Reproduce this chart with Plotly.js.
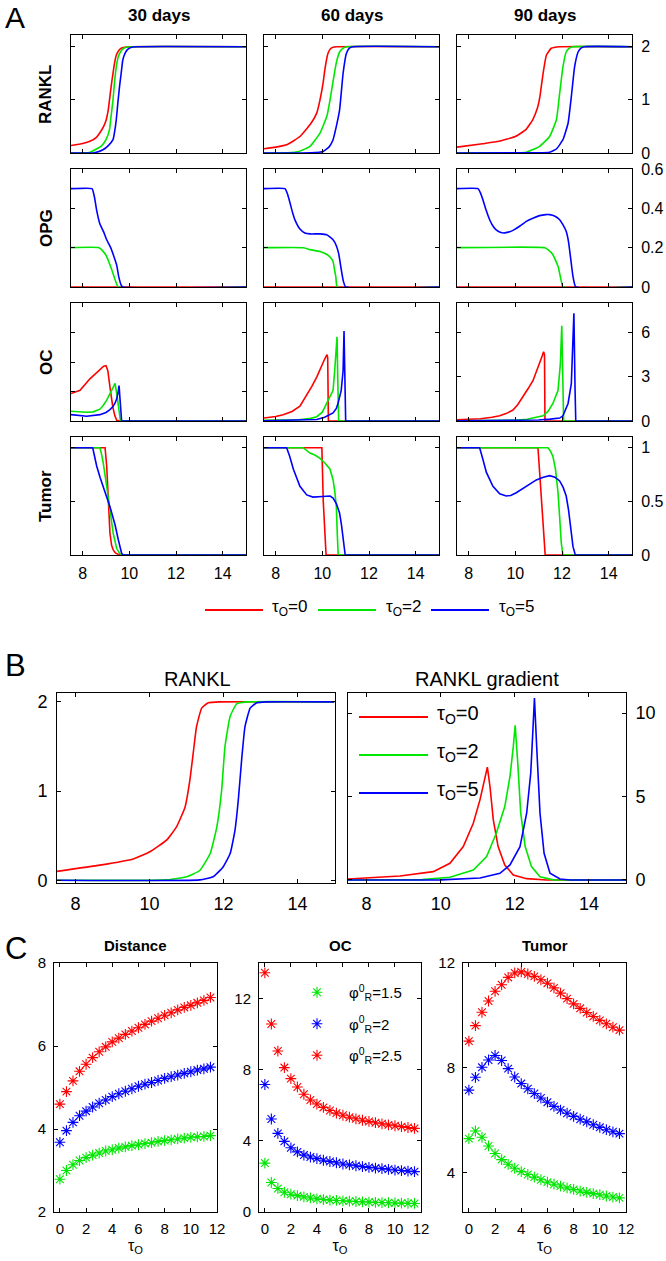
<!DOCTYPE html>
<html><head><meta charset="utf-8">
<script src="https://cdn.plot.ly/plotly-3.0.1.min.js"></script>
<style>html,body{margin:0;padding:0;background:#fff;} #chart{width:666px;height:1261px;}</style>
</head><body><div id="chart"></div>
<script>
// ---------------- Panel A data (x = time, three tau_O values) ----------------
// RANKL
const rankl30_t0_x = [7.5, 8.0, 8.31, 8.6, 8.73, 8.9, 9.01, 9.1, 9.15, 9.22, 9.3, 9.37, 9.44, 9.55, 9.65, 9.8, 10.0, 15];
const rankl30_t0_y = [0.14, 0.18, 0.22, 0.3, 0.375, 0.5, 0.625, 0.82, 1.0, 1.25, 1.5, 1.7, 1.84, 1.93, 1.97, 1.99, 2.0, 2.0];
const rankl30_t2_x = [7.5, 8.3, 8.59, 8.8, 9.0, 9.15, 9.22, 9.3, 9.37, 9.44, 9.52, 9.58, 9.7, 9.86, 10.1, 15];
const rankl30_t2_y = [0, 0.01, 0.075, 0.13, 0.25, 0.44, 0.7, 1.0, 1.35, 1.62, 1.8, 1.87, 1.95, 1.99, 2.0, 2.0];
const rankl30_t5_x = [7.5, 8.5, 8.87, 9.1, 9.3, 9.37, 9.44, 9.51, 9.58, 9.65, 9.72, 9.82, 9.93, 10.1, 10.3, 15];
const rankl30_t5_y = [0, 0.005, 0.06, 0.14, 0.25, 0.4, 0.625, 0.95, 1.25, 1.5, 1.75, 1.88, 1.95, 1.99, 2.0, 2.0];
const rankl60_t0_x = [7.5, 8.0, 8.5, 9.04, 9.5, 9.76, 9.9, 10.03, 10.12, 10.24, 10.35, 10.46, 10.6, 15];
const rankl60_t0_y = [0.08, 0.11, 0.16, 0.31, 0.55, 0.75, 1.0, 1.31, 1.6, 1.87, 1.96, 1.99, 2.0, 2.0];
const rankl60_t2_x = [7.5, 8.5, 9.0, 9.47, 9.9, 10.2, 10.33, 10.46, 10.6, 10.74, 10.88, 11.03, 15];
const rankl60_t2_y = [0, 0.005, 0.03, 0.125, 0.375, 0.7, 1.0, 1.35, 1.7, 1.9, 1.97, 2.0, 2.0];
const rankl60_t5_x = [7.5, 9.5, 10.04, 10.3, 10.46, 10.6, 10.74, 10.89, 11.03, 11.15, 11.31, 15];
const rankl60_t5_y = [0, 0.005, 0.03, 0.12, 0.25, 0.5, 0.81, 1.5, 1.87, 1.97, 2.0, 2.0];
const rankl90_t0_x = [7.5, 8.6, 9.3, 10.0, 10.45, 10.75, 10.95, 11.05, 11.19, 11.33, 11.54, 11.9, 15];
const rankl90_t0_y = [0.11, 0.175, 0.22, 0.31, 0.44, 0.63, 0.85, 1.05, 1.5, 1.84, 1.97, 2.0, 2.0];
const rankl90_t2_x = [7.5, 10.0, 10.47, 11.04, 11.47, 11.76, 11.9, 12.04, 12.18, 12.3, 12.47, 15];
const rankl90_t2_y = [0, 0.005, 0.015, 0.125, 0.31, 0.625, 1.125, 1.62, 1.9, 1.97, 2.0, 2.0];
const rankl90_t5_x = [7.5, 11.0, 11.47, 11.76, 12.04, 12.26, 12.4, 12.54, 12.69, 12.8, 12.97, 15];
const rankl90_t5_y = [0, 0.003, 0.015, 0.075, 0.25, 0.56, 1.06, 1.62, 1.9, 1.97, 2.0, 2.0];
// OPG
const opg30_t0_x = [7.5, 15];
const opg30_t0_y = [0, 0];
const opg30_t2_x = [7.5, 8.7, 8.85, 9.03, 9.24, 9.39, 9.53, 15];
const opg30_t2_y = [0.2, 0.2, 0.185, 0.155, 0.09, 0.037, 0, 0];
const opg30_t5_x = [7.5, 8.4, 8.5, 8.6, 8.74, 8.9, 9.03, 9.2, 9.31, 9.46, 9.55, 9.65, 9.72, 15];
const opg30_t5_y = [0.5, 0.5, 0.46, 0.39, 0.32, 0.28, 0.24, 0.2, 0.165, 0.11, 0.05, 0.01, 0, 0];
const opg60_t0_x = [7.5, 15];
const opg60_t0_y = [0, 0];
const opg60_t2_x = [7.5, 9.2, 9.47, 9.9, 10.2, 10.35, 10.46, 10.52, 10.58, 10.64, 15];
const opg60_t2_y = [0.2, 0.2, 0.19, 0.18, 0.165, 0.15, 0.13, 0.09, 0.05, 0, 0];
const opg60_t5_x = [7.5, 8.4, 8.5, 8.61, 8.72, 8.83, 9.04, 9.25, 9.47, 9.9, 10.2, 10.46, 10.6, 10.7, 10.81, 10.9, 11.0, 15];
const opg60_t5_y = [0.5, 0.5, 0.475, 0.43, 0.38, 0.34, 0.295, 0.275, 0.27, 0.27, 0.265, 0.24, 0.21, 0.17, 0.09, 0.03, 0, 0];
const opg90_t0_x = [7.5, 15];
const opg90_t0_y = [0, 0];
const opg90_t2_x = [7.5, 11.26, 11.4, 11.61, 11.83, 11.97, 12.04, 15];
const opg90_t2_y = [0.2, 0.2, 0.19, 0.164, 0.105, 0.03, 0, 0];
const opg90_t5_x = [7.5, 8.4, 8.5, 8.61, 8.75, 8.9, 9.04, 9.18, 9.35, 9.54, 9.7, 9.9, 10.2, 10.47, 10.75, 11.04, 11.3, 11.47, 11.7, 11.9, 12.05, 12.18, 12.28, 12.36, 12.47, 12.59, 15];
const opg90_t5_y = [0.5, 0.5, 0.48, 0.444, 0.39, 0.342, 0.31, 0.29, 0.278, 0.275, 0.279, 0.288, 0.31, 0.334, 0.35, 0.363, 0.368, 0.368, 0.36, 0.342, 0.315, 0.283, 0.23, 0.156, 0.054, 0, 0];
// OC
const oc30_t0_x = [7.5, 7.89, 8.31, 8.6, 8.74, 8.9, 9.0, 9.08, 9.17, 9.29, 9.38, 9.46, 9.6, 15];
const oc30_t0_y = [1.86, 2.08, 2.86, 3.3, 3.53, 3.72, 3.75, 3.4, 2.3, 0.96, 0.35, 0.05, 0, 0];
const oc30_t2_x = [7.5, 8.17, 8.45, 8.6, 8.74, 8.88, 9.03, 9.24, 9.39, 9.48, 9.57, 9.62, 15];
const oc30_t2_y = [0.66, 0.59, 0.62, 0.7, 0.8, 1.05, 1.41, 2.08, 2.55, 1.63, 0.3, 0, 0];
const oc30_t5_x = [7.5, 8.17, 8.74, 9.0, 9.17, 9.3, 9.39, 9.46, 9.52, 9.56, 9.6, 9.63, 9.67, 15];
const oc30_t5_y = [0.43, 0.32, 0.43, 0.58, 0.77, 0.98, 1.22, 1.5, 1.95, 2.4, 1.5, 0.9, 0, 0];
const oc60_t0_x = [7.5, 8.0, 8.32, 8.7, 9.04, 9.33, 9.55, 9.76, 9.95, 10.1, 10.2, 10.23, 10.26, 15];
const oc60_t0_y = [0.2, 0.3, 0.43, 0.65, 1.0, 1.75, 2.35, 2.98, 3.7, 4.2, 4.5, 4.3, 0, 0];
const oc60_t2_x = [7.5, 9.0, 9.5, 9.76, 10.0, 10.19, 10.33, 10.46, 10.53, 10.6, 10.63, 10.67, 10.7, 15];
const oc60_t2_y = [0.04, 0.08, 0.18, 0.29, 0.6, 1.19, 1.6, 2.08, 3.42, 5.0, 5.7, 2.1, 0, 0];
const oc60_t5_x = [7.5, 9.5, 9.76, 10.1, 10.33, 10.46, 10.6, 10.67, 10.81, 10.89, 10.93, 10.97, 11.0, 15];
const oc60_t5_y = [0.02, 0.05, 0.1, 0.25, 0.43, 0.55, 0.85, 1.19, 2.08, 3.42, 6.1, 2.5, 0, 0];
const oc90_t0_x = [7.5, 8.5, 9.0, 9.33, 9.6, 9.9, 10.1, 10.33, 10.55, 10.76, 10.95, 11.04, 11.15, 11.21, 11.25, 11.27, 15];
const oc90_t0_y = [0.08, 0.15, 0.25, 0.35, 0.5, 0.74, 1.1, 1.63, 2.2, 2.75, 3.5, 3.87, 4.4, 4.7, 4.5, 0, 0];
const oc90_t2_x = [7.5, 10.0, 10.5, 11.0, 11.19, 11.4, 11.61, 11.83, 11.93, 11.99, 12.04, 12.07, 15];
const oc90_t2_y = [0.02, 0.05, 0.12, 0.25, 0.35, 0.65, 1.19, 2.08, 3.87, 6.45, 2.1, 0, 0];
const oc90_t5_x = [7.5, 10.5, 11.0, 11.5, 11.9, 12.04, 12.26, 12.4, 12.47, 12.51, 12.56, 12.59, 15];
const oc90_t5_y = [0.01, 0.03, 0.07, 0.13, 0.2, 0.35, 1.19, 2.53, 5.66, 7.3, 2.1, 0, 0];
// Tumor
const tum30_t0_x = [7.5, 8.96, 9.03, 9.1, 9.17, 9.24, 9.31, 9.4, 9.53, 9.74, 15];
const tum30_t0_y = [1, 1, 0.83, 0.52, 0.2, 0.09, 0.047, 0.02, 0.006, 0, 0];
const tum30_t2_x = [7.5, 8.74, 8.8, 8.88, 9.03, 9.17, 9.31, 9.46, 9.6, 9.74, 15];
const tum30_t2_y = [1, 1, 0.95, 0.86, 0.64, 0.42, 0.2, 0.06, 0.01, 0, 0];
const tum30_t5_x = [7.5, 8.43, 8.5, 8.6, 8.75, 8.88, 9.03, 9.17, 9.3, 9.39, 9.53, 9.6, 9.67, 9.74, 15];
const tum30_t5_y = [1, 1, 0.93, 0.83, 0.72, 0.64, 0.55, 0.45, 0.35, 0.28, 0.14, 0.06, 0.016, 0, 0];
const tum60_t0_x = [7.5, 9.98, 10.04, 10.16, 15];
const tum60_t0_y = [1, 1, 0.5, 0, 0];
const tum60_t2_x = [7.5, 9.18, 9.47, 9.7, 9.9, 10.1, 10.33, 10.46, 10.53, 10.6, 10.64, 10.68, 15];
const tum60_t2_y = [1, 1, 0.95, 0.93, 0.9, 0.86, 0.8, 0.7, 0.6, 0.45, 0.2, 0, 0];
const tum60_t5_x = [7.5, 8.47, 8.6, 8.76, 9.04, 9.33, 9.6, 9.76, 10.0, 10.33, 10.46, 10.6, 10.74, 10.82, 10.89, 10.94, 10.98, 15];
const tum60_t5_y = [1, 1, 0.92, 0.8, 0.64, 0.56, 0.54, 0.54, 0.545, 0.55, 0.53, 0.48, 0.39, 0.28, 0.14, 0.05, 0, 0];
const tum90_t0_x = [7.5, 10.97, 11.28, 15];
const tum90_t0_y = [1, 1, 0, 0];
const tum90_t2_x = [7.5, 11.4, 11.5, 11.61, 11.72, 11.83, 11.9, 11.97, 12.04, 15];
const tum90_t2_y = [1, 1, 0.97, 0.92, 0.8, 0.58, 0.35, 0.11, 0, 0];
const tum90_t5_x = [7.5, 8.47, 8.6, 8.76, 9.04, 9.33, 9.61, 9.8, 10.04, 10.47, 10.9, 11.2, 11.47, 11.7, 11.9, 12.05, 12.18, 12.28, 12.36, 12.47, 12.57, 15];
const tum90_t5_y = [1, 1, 0.9, 0.77, 0.64, 0.57, 0.55, 0.555, 0.58, 0.64, 0.7, 0.725, 0.74, 0.725, 0.69, 0.63, 0.55, 0.42, 0.27, 0.08, 0, 0];

// ---------------- Panel B data ----------------
const bRankl_t0_x = [7.5, 8.66, 9.56, 10.01, 10.46, 10.73, 10.96, 11.09, 11.18, 11.27, 11.41, 11.59, 11.9, 15];
const bRankl_t0_y = [0.1, 0.17, 0.24, 0.32, 0.45, 0.6, 0.82, 1.12, 1.42, 1.72, 1.93, 1.99, 2.0, 2.0];
const bRankl_t2_x = [7.5, 10.46, 11.0, 11.36, 11.64, 11.82, 11.95, 12.04, 12.18, 12.36, 12.63, 15];
const bRankl_t2_y = [0, 0.005, 0.04, 0.11, 0.3, 0.6, 1.01, 1.5, 1.84, 1.98, 2.0, 2.0];
const bRankl_t5_x = [7.5, 11.36, 11.72, 11.99, 12.18, 12.31, 12.4, 12.49, 12.58, 12.72, 12.9, 13.17, 15];
const bRankl_t5_y = [0, 0.005, 0.04, 0.15, 0.3, 0.56, 0.9, 1.35, 1.72, 1.93, 1.99, 2.0, 2.0];
const bGrad_t0_x = [7.5, 8.9, 9.8, 10.25, 10.61, 10.88, 11.06, 11.19, 11.26, 11.33, 11.42, 11.55, 11.73, 11.96, 12.32, 12.86, 15];
const bGrad_t0_y = [0.06, 0.24, 0.5, 1.0, 2.0, 3.4, 4.8, 6.2, 6.76, 5.6, 3.6, 2.0, 0.9, 0.3, 0.08, 0, 0];
const bGrad_t2_x = [7.5, 9.5, 10.25, 10.88, 11.24, 11.5, 11.73, 11.87, 11.96, 12.01, 12.08, 12.16, 12.28, 12.45, 12.68, 13.04, 15];
const bGrad_t2_y = [0, 0.02, 0.16, 0.6, 1.4, 2.8, 4.4, 6.2, 8.0, 9.26, 7.0, 4.0, 2.0, 0.8, 0.2, 0.01, 0];
const bGrad_t5_x = [7.5, 10.0, 11.06, 11.6, 11.87, 12.14, 12.32, 12.43, 12.48, 12.53, 12.59, 12.68, 12.79, 12.95, 13.22, 13.5, 15];
const bGrad_t5_y = [0, 0.01, 0.12, 0.4, 0.9, 2.0, 4.0, 6.4, 8.6, 10.9, 8.0, 4.0, 1.6, 0.4, 0.06, 0, 0];

// ---------------- Panel C data ----------------
const tauO = [0, 0.5, 1, 1.5, 2, 2.5, 3, 3.5, 4, 4.5, 5, 5.5, 6, 6.5, 7, 7.5, 8, 8.5, 9, 9.5, 10, 10.5, 11, 11.5];
const dist_phi15 = [2.79, 3.0, 3.14, 3.24, 3.31, 3.37, 3.42, 3.47, 3.5, 3.54, 3.57, 3.6, 3.62, 3.65, 3.67, 3.7, 3.72, 3.74, 3.76, 3.78, 3.8, 3.81, 3.82, 3.84];
const dist_phi2  = [3.68, 3.96, 4.16, 4.32, 4.43, 4.53, 4.62, 4.7, 4.78, 4.85, 4.91, 4.97, 5.03, 5.08, 5.12, 5.17, 5.22, 5.26, 5.3, 5.34, 5.38, 5.42, 5.45, 5.49];
const dist_phi25 = [4.6, 4.9, 5.16, 5.39, 5.56, 5.72, 5.86, 5.98, 6.1, 6.19, 6.28, 6.36, 6.44, 6.52, 6.6, 6.67, 6.74, 6.8, 6.87, 6.93, 6.98, 7.04, 7.1, 7.17];
const oc_phi15 = [2.75, 1.66, 1.32, 1.11, 1.0, 0.92, 0.85, 0.79, 0.74, 0.7, 0.67, 0.65, 0.63, 0.61, 0.59, 0.57, 0.56, 0.54, 0.53, 0.52, 0.51, 0.5, 0.49, 0.48];
const oc_phi2  = [7.17, 5.23, 4.42, 3.97, 3.61, 3.38, 3.2, 3.09, 3.0, 2.91, 2.84, 2.77, 2.7, 2.65, 2.6, 2.55, 2.51, 2.47, 2.44, 2.4, 2.36, 2.33, 2.3, 2.27];
const oc_phi25 = [13.45, 10.57, 9.05, 8.12, 7.5, 7.03, 6.62, 6.3, 6.07, 5.88, 5.71, 5.56, 5.44, 5.33, 5.24, 5.16, 5.09, 5.02, 4.96, 4.9, 4.85, 4.8, 4.75, 4.7];
const tum_phi15 = [5.3, 5.59, 5.35, 5.02, 4.73, 4.5, 4.32, 4.17, 4.04, 3.93, 3.83, 3.73, 3.64, 3.56, 3.49, 3.42, 3.36, 3.3, 3.25, 3.2, 3.16, 3.11, 3.07, 3.04];
const tum_phi2  = [7.15, 7.64, 8.02, 8.3, 8.47, 8.28, 7.97, 7.65, 7.4, 7.2, 7.02, 6.85, 6.69, 6.53, 6.39, 6.27, 6.15, 6.04, 5.94, 5.83, 5.73, 5.64, 5.56, 5.49];
const tum_phi25 = [9.02, 9.61, 10.12, 10.55, 10.92, 11.17, 11.45, 11.62, 11.66, 11.58, 11.49, 11.36, 11.23, 11.05, 10.85, 10.64, 10.44, 10.27, 10.11, 9.96, 9.81, 9.68, 9.55, 9.44];

// labels
const colTitles = ['30 days', '60 days', '90 days'];
const rowLabels = ['RANKL', 'OPG', 'OC', 'Tumor'];
const tauNames = ['τ<sub>O</sub>=0', 'τ<sub>O</sub>=2', 'τ<sub>O</sub>=5'];
const phiNames = ['φ<sup>0</sup><sub>R</sub>=1.5', 'φ<sup>0</sup><sub>R</sub>=2', 'φ<sup>0</sup><sub>R</sub>=2.5'];
const cTitles = ['Distance', 'OC', 'Tumor'];

// ---------------- styling / layout ----------------
const W = 666, H = 1261;
const FONT = 'Liberation Sans, Arial, Helvetica, sans-serif';
const COLORS = ['#ff0000', '#00e600', '#0000ff'];
const LW = 1.6;

const A_sets = [
  [[rankl30_t0_x, rankl30_t0_y, rankl30_t2_x, rankl30_t2_y, rankl30_t5_x, rankl30_t5_y],
   [rankl60_t0_x, rankl60_t0_y, rankl60_t2_x, rankl60_t2_y, rankl60_t5_x, rankl60_t5_y],
   [rankl90_t0_x, rankl90_t0_y, rankl90_t2_x, rankl90_t2_y, rankl90_t5_x, rankl90_t5_y]],
  [[opg30_t0_x, opg30_t0_y, opg30_t2_x, opg30_t2_y, opg30_t5_x, opg30_t5_y],
   [opg60_t0_x, opg60_t0_y, opg60_t2_x, opg60_t2_y, opg60_t5_x, opg60_t5_y],
   [opg90_t0_x, opg90_t0_y, opg90_t2_x, opg90_t2_y, opg90_t5_x, opg90_t5_y]],
  [[oc30_t0_x, oc30_t0_y, oc30_t2_x, oc30_t2_y, oc30_t5_x, oc30_t5_y],
   [oc60_t0_x, oc60_t0_y, oc60_t2_x, oc60_t2_y, oc60_t5_x, oc60_t5_y],
   [oc90_t0_x, oc90_t0_y, oc90_t2_x, oc90_t2_y, oc90_t5_x, oc90_t5_y]],
  [[tum30_t0_x, tum30_t0_y, tum30_t2_x, tum30_t2_y, tum30_t5_x, tum30_t5_y],
   [tum60_t0_x, tum60_t0_y, tum60_t2_x, tum60_t2_y, tum60_t5_x, tum60_t5_y],
   [tum90_t0_x, tum90_t0_y, tum90_t2_x, tum90_t2_y, tum90_t5_x, tum90_t5_y]]
];
// gently curving rows drawn with light spline smoothing; sharp spikes/drops stay linear
const smoothRow = [true, true, false, false];
const SMOOTH = 0.4;

const colsA = [[71, 246], [264, 439], [457, 632]];
const rowsA = [[35, 153], [169, 287], [303, 421], [437, 555]];
const yRangesA = [[0, 2.22], [0, 0.6], [0, 8], [0, 1.1]];
const yTicksA = [[0, 1, 2], [0, 0.2, 0.4, 0.6], [0, 2, 4, 6], [0, 0.5, 1]];
const yTicksA_right = [[0, 1, 2], [0, 0.2, 0.4, 0.6], [0, 3, 6], [0, 0.5, 1]];

function xd(a, b) { return [a / W, b / W]; }
function yd(top, bot) { return [1 - bot / H, 1 - top / H]; }
function axBase(size) {
  return {showline: true, linecolor: '#000', linewidth: 1, mirror: 'ticks', ticks: 'inside', ticklen: 4,
          tickwidth: 1, tickcolor: '#000', showgrid: false, zeroline: false, fixedrange: true,
          tickfont: {family: FONT, size: size, color: '#000'}};
}
function axName(i, letter) { return letter + 'axis' + (i === 1 ? '' : i); }
function axRef(i, letter) { return letter + (i === 1 ? '' : i); }

const traces = [];
const layout = {
  width: W, height: H, margin: {l: 0, r: 0, t: 0, b: 0}, paper_bgcolor: '#fff', plot_bgcolor: '#fff',
  showlegend: true, annotations: [], shapes: [],
  legend: {x: 285 / W, y: 1 - 976 / H, xanchor: 'left', yanchor: 'top', bgcolor: 'rgba(0,0,0,0)', itemwidth: 54,
           font: {family: FONT, size: 15, color: '#000'}, tracegroupgap: 9, traceorder: 'grouped', itemclick: false, itemdoubleclick: false}
};

let idx = 0;
for (let r = 0; r < 4; r++) {
  for (let c = 0; c < 3; c++) {
    idx++;
    const xa = axBase(16), ya = axBase(16);
    Object.assign(xa, {domain: xd(colsA[c][0], colsA[c][1]), range: [7.5, 15], tickvals: [8, 10, 12, 14],
      showticklabels: r === 3, anchor: axRef(idx, 'y'), ticklabelstandoff: 4});
    Object.assign(ya, {domain: yd(rowsA[r][0], rowsA[r][1]), range: yRangesA[r],
      tickvals: c === 2 ? yTicksA_right[r] : yTicksA[r], showticklabels: c === 2, side: c === 2 ? 'right' : 'left',
      anchor: axRef(idx, 'x'), ticklabelstandoff: 5});
    layout[axName(idx, 'x')] = xa; layout[axName(idx, 'y')] = ya;
    const s = A_sets[r][c];
    for (let k = 0; k < 3; k++) {
      traces.push({x: s[2 * k], y: s[2 * k + 1], type: 'scatter', mode: 'lines',
        line: smoothRow[r] ? {color: COLORS[k], width: LW, shape: 'spline', smoothing: SMOOTH} : {color: COLORS[k], width: LW},
        xaxis: axRef(idx, 'x'), yaxis: axRef(idx, 'y'), showlegend: false, hoverinfo: 'skip', name: tauNames[k]});
    }
  }
}

// Panel B
const B_sets = [
  [bRankl_t0_x, bRankl_t0_y, bRankl_t2_x, bRankl_t2_y, bRankl_t5_x, bRankl_t5_y],
  [bGrad_t0_x, bGrad_t0_y, bGrad_t2_x, bGrad_t2_y, bGrad_t5_x, bGrad_t5_y]
];
const colsB = [[57, 334.5], [348, 626]];
const rowB = [693, 883];
const yRangesB = [[-0.03, 2.1], [-0.18, 11.2]];
const yTicksB = [[0, 1, 2], [0, 5, 10]];
for (let c = 0; c < 2; c++) {
  idx++;
  const xa = axBase(18), ya = axBase(18);
  Object.assign(xa, {domain: xd(colsB[c][0], colsB[c][1]), range: [7.5, 15], tickvals: [8, 10, 12, 14],
    anchor: axRef(idx, 'y'), ticklabelstandoff: 4});
  Object.assign(ya, {domain: yd(rowB[0], rowB[1]), range: yRangesB[c], tickvals: yTicksB[c],
    side: c === 1 ? 'right' : 'left', anchor: axRef(idx, 'x'), ticklabelstandoff: 5});
  layout[axName(idx, 'x')] = xa; layout[axName(idx, 'y')] = ya;
  const s = B_sets[c];
  for (let k = 0; k < 3; k++) {
    traces.push({x: s[2 * k], y: s[2 * k + 1], type: 'scatter', mode: 'lines',
      line: c === 0 ? {color: COLORS[k], width: LW, shape: 'spline', smoothing: SMOOTH} : {color: COLORS[k], width: LW},
      xaxis: axRef(idx, 'x'), yaxis: axRef(idx, 'y'), showlegend: false, hoverinfo: 'skip', name: tauNames[k]});
  }
}

// Panel C
const C_sets = [[dist_phi15, dist_phi2, dist_phi25], [oc_phi15, oc_phi2, oc_phi25], [tum_phi15, tum_phi2, tum_phi25]];
const C_colors = [COLORS[1], COLORS[2], COLORS[0]];
const colsC = [[54, 217], [259, 421], [463, 626]];
const rowC = [963, 1212];
const yRangesC = [[2, 8], [0, 14], [2.5, 12]];
const yTicksC = [[2, 4, 6, 8], [0, 4, 8, 12], [4, 8, 12]];
for (let c = 0; c < 3; c++) {
  idx++;
  const xa = axBase(15), ya = axBase(15);
  Object.assign(xa, {domain: xd(colsC[c][0], colsC[c][1]), range: [-0.45, 12], tickvals: [0, 2, 4, 6, 8, 10, 12],
    anchor: axRef(idx, 'y'), ticklabelstandoff: 3,
    title: {text: 'τ<sub>O</sub>', font: {family: FONT, size: 16, color: '#000'}, standoff: 1}});
  Object.assign(ya, {domain: yd(rowC[0], rowC[1]), range: yRangesC[c], tickvals: yTicksC[c],
    anchor: axRef(idx, 'x'), ticklabelstandoff: 4});
  layout[axName(idx, 'x')] = xa; layout[axName(idx, 'y')] = ya;
  for (let k = 0; k < 3; k++) {
    traces.push({x: tauO, y: C_sets[c][k], type: 'scatter', mode: 'markers',
      marker: {symbol: 'asterisk-open', size: 9, color: C_colors[k], line: {color: C_colors[k], width: 1.1}},
      xaxis: axRef(idx, 'x'), yaxis: axRef(idx, 'y'), hoverinfo: 'skip', name: phiNames[k],
      showlegend: c === 1, legendgroup: 'phi' + k});
  }
}

// ---------------- text ----------------
function ann(text, xpx, ypx, size, extra) {
  layout.annotations.push(Object.assign({text: text, x: xpx / W, y: 1 - ypx / H, xref: 'paper', yref: 'paper',
    showarrow: false, xanchor: 'center', yanchor: 'middle', font: {family: FONT, size: size, color: '#000'}}, extra || {}));
}
ann('A', 15, 18, 30); ann('B', 15, 665, 31); ann('C', 16, 948, 31);
colTitles.forEach((t, c) => ann('<b>' + t + '</b>', (colsA[c][0] + colsA[c][1]) / 2, 16, 17));
rowLabels.forEach((t, r) => ann('<b>' + t + '</b>', 46, (rowsA[r][0] + rowsA[r][1]) / 2, 17, {textangle: -90}));
ann('RANKL', 197, 679, 20); ann('RANKL gradient', 487, 679, 20);
cTitles.forEach((t, c) => ann('<b>' + t + '</b>', (colsC[c][0] + colsC[c][1]) / 2, 945, 15));

// legend keys for panels A and B
const legA = [[205, 263, 270], [318, 376, 384], [431, 489, 497]];
legA.forEach((p, k) => {
  layout.shapes.push({type: 'line', xref: 'paper', yref: 'paper', x0: p[0] / W, x1: p[1] / W, y0: 1 - 610 / H, y1: 1 - 610 / H,
    line: {color: COLORS[k], width: 2}});
  ann(tauNames[k], p[2], 608, 17, {xanchor: 'left'});
});
const legBy = [717, 755, 793];
legBy.forEach((y, k) => {
  layout.shapes.push({type: 'line', xref: 'paper', yref: 'paper', x0: 359 / W, x1: 428 / W, y0: 1 - y / H, y1: 1 - y / H,
    line: {color: COLORS[k], width: 2}});
  ann(tauNames[k], 435, y - 3, 20, {xanchor: 'left'});
});

Plotly.newPlot('chart', traces, layout, {staticPlot: true, displayModeBar: false});
</script></body></html>
